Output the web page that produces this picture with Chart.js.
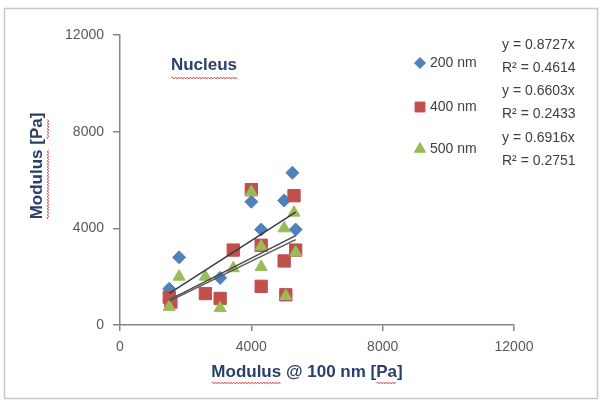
<!DOCTYPE html>
<html>
<head>
<meta charset="utf-8">
<script src="https://cdn.jsdelivr.net/npm/chart.js@4/dist/chart.umd.min.js"></script>
<style>
  html, body { margin: 0; padding: 0; background: #fff; }
  #wrap { width: 600px; height: 401px; }
</style>
</head>
<body>
<div id="wrap"><canvas id="chart" width="600" height="401"></canvas></div>
<script>
// values (Pa)
const x200 = [1500, 1800, 3050, 4000, 4300, 5000, 5250, 5350];
const y200 = [1500, 2800, 1950, 5100, 3950, 5150, 6300, 3950];

const x400 = [1500, 1550, 2600, 3050, 3450, 4000, 4300, 4300, 5000, 5050, 5300, 5350];
const y400 = [1150, 950, 1300, 1100, 3100, 5600, 3300, 1600, 2650, 1250, 5350, 3100];

const x500 = [1500, 1800, 2600, 3050, 3450, 4000, 4300, 4300, 5000, 5050, 5300, 5350];
const y500 = [750, 2000, 2000, 700, 2350, 5500, 3250, 2400, 4000, 1200, 4650, 3000];

const seriesNames = ["200 nm", "400 nm", "500 nm"];
const slopes = [0.8727, 0.6603, 0.6916];
const rSquared = ["0.4614", "0.2433", "0.2751"];

const xTickLabels = ["0", "4000", "8000", "12000"];
const yTickLabels = ["0", "4000", "8000", "12000"];

const colors = ["#4F81BD", "#C0504D", "#9BBB59"];
const shapes = ["rectRot", "rect", "triangle"];
const radii = [6.5, 8.7, 7];

const toPoints = (xs, ys) => xs.map((x, i) => ({ x: x, y: ys[i] }));

// linear trendline through origin, drawn across the series' x range
const trend = (xs, k) => {
  const lo = Math.min(...xs), hi = Math.max(...xs);
  return [{ x: lo, y: k * lo }, { x: hi, y: k * hi }];
};

const allX = [x200, x400, x500];
const allY = [y200, y400, y500];

const datasets = [];
allX.forEach((xs, i) => {
  datasets.push({
    label: seriesNames[i],
    data: toPoints(xs, allY[i]),
    showLine: false,
    pointStyle: shapes[i],
    pointRadius: radii[i],
    pointHoverRadius: radii[i],
    backgroundColor: colors[i],
    borderColor: colors[i],
    borderWidth: 1,
    order: 3 - i
  });
});
const trendColors = ["#3a3a3a", "#5a5a5a", "#4a4a4a"];
allX.forEach((xs, i) => {
  datasets.push({
    label: "trend " + seriesNames[i],
    data: trend(xs, slopes[i]),
    showLine: true,
    pointRadius: 0,
    borderColor: trendColors[i],
    borderWidth: 1.5,
    order: 0
  });
});

// wavy red spell-check underline
const squiggle = (ctx, x1, x2, y) => {
  ctx.save();
  ctx.strokeStyle = "#e05a5a";
  ctx.lineWidth = 1;
  ctx.beginPath();
  let up = true;
  ctx.moveTo(x1, y);
  for (let x = x1 + 1.5; x <= x2; x += 1.5) {
    ctx.lineTo(x, up ? y - 1 : y + 1);
    up = !up;
  }
  ctx.stroke();
  ctx.restore();
};

const decor = {
  id: "decor",
  beforeDraw(chart) {
    const ctx = chart.ctx;
    ctx.save();
    ctx.fillStyle = "#fff";
    ctx.fillRect(0, 0, chart.width, chart.height);
    ctx.strokeStyle = "#c8c8c8";
    ctx.lineWidth = 1.5;
    ctx.strokeRect(4.5, 8.5, 593, 390);
    ctx.restore();
  },
  afterDraw(chart) {
    const ctx = chart.ctx;
    const titleColor = "#2B3F6B";
    ctx.save();
    ctx.font = "bold 17px 'Liberation Sans', Arial, sans-serif";
    ctx.fillStyle = titleColor;
    ctx.textBaseline = "middle";
    ctx.textAlign = "left";

    // "Nucleus"
    let w = ctx.measureText("Nucleus").width;
    ctx.fillText("Nucleus", 204 - w / 2, 65);
    squiggle(ctx, 204 - w / 2, 204 + w / 2, 78);

    // x title
    const xt = "Modulus @ 100 nm [Pa]";
    w = ctx.measureText(xt).width;
    let left = 307 - w / 2;
    ctx.fillText(xt, left, 372);
    squiggle(ctx, left, left + ctx.measureText("Modulus").width, 383);
    let pa = left + ctx.measureText("Modulus @ 100 nm [").width;
    squiggle(ctx, pa, pa + ctx.measureText("Pa").width, 383);

    // y title
    const yt = "Modulus [Pa]";
    ctx.save();
    ctx.translate(37, 166);
    ctx.rotate(-Math.PI / 2);
    w = ctx.measureText(yt).width;
    left = -w / 2;
    ctx.fillText(yt, left, 0);
    squiggle(ctx, left, left + ctx.measureText("Modulus").width, 11);
    pa = left + ctx.measureText("Modulus [").width;
    squiggle(ctx, pa, pa + ctx.measureText("Pa").width, 11);
    ctx.restore();

    // legend + trendline equations
    const rows = [63, 107, 149];
    const eqY = [45, 91, 138];
    const lgRadii = [5.5, 7, 6.5];
    ctx.font = "14px 'Liberation Sans', Arial, sans-serif";
    ctx.fillStyle = "#404040";
    rows.forEach((y, i) => {
      ctx.save();
      ctx.fillStyle = colors[i];
      ctx.strokeStyle = colors[i];
      ctx.lineWidth = 1;
      Chart.helpers.drawPoint(ctx, { pointStyle: shapes[i], radius: lgRadii[i], rotation: 0, borderWidth: 1 }, 420, y);
      ctx.restore();
      ctx.fillText(seriesNames[i], 430, y);
      ctx.fillText("y = " + slopes[i].toFixed(4) + "x", 502, eqY[i]);
      ctx.fillText("R\u00B2 = " + rSquared[i], 502, eqY[i] + 23);
    });
    ctx.restore();
  }
};

new Chart(document.getElementById("chart").getContext("2d"), {
  type: "scatter",
  data: { datasets: datasets },
  options: {
    responsive: false,
    animation: false,
    layout: { padding: { left: 0, top: 35, right: 86, bottom: 0 } },
    plugins: {
      legend: { display: false },
      tooltip: { enabled: false }
    },
    scales: {
      x: {
        type: "linear",
        min: 0,
        max: 12000,
        ticks: {
          stepSize: 4000,
          color: "#595959",
          font: { size: 14, family: "'Liberation Sans', Arial, sans-serif" },
          padding: 8,
          maxRotation: 0,
          callback: (v, i) => xTickLabels[i]
        },
        grid: { drawOnChartArea: false, tickLength: 6, color: "#868686", lineWidth: 1.5 },
        border: { color: "#868686", width: 1.5 },
        afterFit: (s) => { s.height = 76; }
      },
      y: {
        type: "linear",
        min: 0,
        max: 12000,
        ticks: {
          stepSize: 4000,
          color: "#595959",
          font: { size: 14, family: "'Liberation Sans', Arial, sans-serif" },
          padding: 9,
          callback: (v, i) => yTickLabels[i]
        },
        grid: { drawOnChartArea: false, tickLength: 7, color: "#868686", lineWidth: 1.5 },
        border: { color: "#868686", width: 1.5 },
        afterFit: (s) => { s.width = 120; }
      }
    }
  },
  plugins: [decor]
});
</script>
</body>
</html>
